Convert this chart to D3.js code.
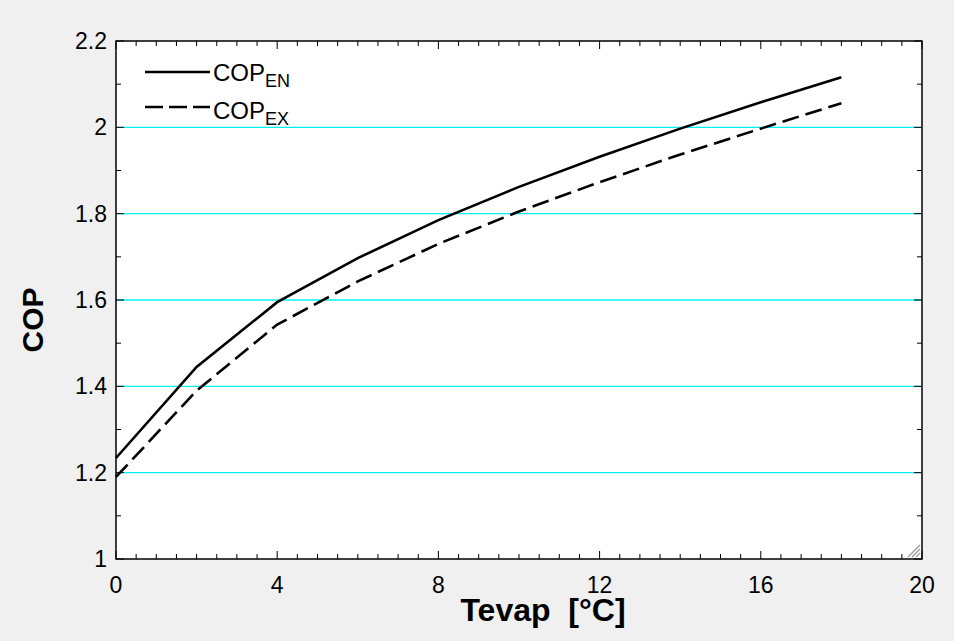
<!DOCTYPE html>
<html>
<head>
<meta charset="utf-8">
<script src="https://cdn.jsdelivr.net/npm/d3@7"></script>
<style>
  body { margin: 0; background: #f0f0f0; }
  svg { display: block; font-family: "Liberation Sans", Arial, sans-serif; }
</style>
</head>
<body>
<div id="chart"></div>
<script>
// Tevap [°C] vs COP
const tevap = [0, 2, 4, 6, 8, 10, 12, 14, 16, 18];
const copEN = [1.234, 1.445, 1.595, 1.697, 1.785, 1.862, 1.932, 1.997, 2.058, 2.116];
const copEX = [1.19, 1.39, 1.543, 1.643, 1.73, 1.805, 1.873, 1.937, 1.997, 2.056];
const xTicks = [0, 4, 8, 12, 16, 20];
const yTicks = [1, 1.2, 1.4, 1.6, 1.8, 2, 2.2];
const gridValues = [1.2, 1.4, 1.6, 1.8, 2];

const W = 954, H = 641;
const m = { left: 116, right: 954 - 922, top: 41, bottom: 641 - 559 };

const svg = d3.select('#chart').append('svg')
  .attr('width', W).attr('height', H);

svg.append('rect').attr('width', W).attr('height', H).attr('fill', '#f0f0f0');

const x = d3.scaleLinear().domain([0, 20]).range([m.left, W - m.right]);
const y = d3.scaleLinear().domain([1, 2.2]).range([H - m.bottom, m.top]);

// plot background
svg.append('rect')
  .attr('x', x(0)).attr('y', y(2.2))
  .attr('width', x(20) - x(0)).attr('height', y(1) - y(2.2))
  .attr('fill', '#fff');

// grid lines
svg.selectAll('.grid').data(gridValues).enter().append('line')
  .attr('x1', x(0)).attr('x2', x(20))
  .attr('y1', d => y(d)).attr('y2', d => y(d))
  .attr('stroke', '#00f0f4').attr('stroke-width', 1.4);

// inward ticks on all four sides
const xMinor = d3.range(0, 20.01, 0.5);
const yMinor = d3.range(1, 2.201, 0.1);
const isMajorX = v => Math.abs(v / 4 - Math.round(v / 4)) < 1e-6;
const isMajorY = v => Math.abs(v * 5 - Math.round(v * 5)) < 1e-6;

const ticks = svg.append('g').attr('stroke', '#000').attr('stroke-width', 1);
xMinor.forEach(v => {
  const len = isMajorX(v) ? 8 : 5;
  ticks.append('line').attr('x1', x(v)).attr('x2', x(v)).attr('y1', y(1)).attr('y2', y(1) - len);
  ticks.append('line').attr('x1', x(v)).attr('x2', x(v)).attr('y1', y(2.2)).attr('y2', y(2.2) + len);
});
yMinor.forEach(v => {
  const len = isMajorY(v) ? 8 : 5;
  ticks.append('line').attr('x1', x(0)).attr('x2', x(0) + len).attr('y1', y(v)).attr('y2', y(v));
  ticks.append('line').attr('x1', x(20)).attr('x2', x(20) - len).attr('y1', y(v)).attr('y2', y(v));
});

// frame
svg.append('rect')
  .attr('x', x(0)).attr('y', y(2.2))
  .attr('width', x(20) - x(0)).attr('height', y(1) - y(2.2))
  .attr('fill', 'none').attr('stroke', '#000').attr('stroke-width', 1.5);

// tick labels
svg.selectAll('.xl').data(xTicks).enter().append('text')
  .attr('x', d => x(d)).attr('y', y(1) + 34)
  .attr('text-anchor', 'middle').attr('font-size', 23).text(d => d);

svg.selectAll('.yl').data(yTicks).enter().append('text')
  .attr('x', x(0) - 9).attr('y', d => y(d) + 8)
  .attr('text-anchor', 'end').attr('font-size', 23).text(d => d);

// axis titles
svg.append('text')
  .attr('x', 543).attr('y', 621)
  .attr('text-anchor', 'middle').attr('font-size', 32).attr('font-weight', 'bold')
  .attr('xml:space', 'preserve')
  .text('Tevap  [°C]');

svg.append('text')
  .attr('transform', 'translate(43, 320) rotate(-90)')
  .attr('text-anchor', 'middle').attr('font-size', 30).attr('font-weight', 'bold')
  .text('COP');

// curves
const line = d3.line().x(d => x(d[0])).y(d => y(d[1]));
const series = [
  { name: 'EN', values: copEN, dash: null },
  { name: 'EX', values: copEX, dash: '17,7' }
];

series.forEach(s => {
  svg.append('path')
    .datum(tevap.map((t, i) => [t, s.values[i]]))
    .attr('d', line)
    .attr('fill', 'none').attr('stroke', '#000').attr('stroke-width', 2.6)
    .attr('stroke-dasharray', s.dash);
});

// legend
series.forEach((s, i) => {
  const ly = 72 + i * 35;
  svg.append('line')
    .attr('x1', 145).attr('x2', 210).attr('y1', ly).attr('y2', ly)
    .attr('stroke', '#000').attr('stroke-width', 2.6)
    .attr('stroke-dasharray', s.dash ? '18,6' : null);
  const t = svg.append('text').attr('x', 213).attr('y', ly + 9 + i * 3).attr('font-size', 24);
  t.append('tspan').text('COP');
  t.append('tspan').attr('font-size', 18).attr('dy', 6).text(s.name);
});

// resize grip
const grip = svg.append('g').attr('stroke', '#999').attr('stroke-width', 1.2);
[4, 8, 12].forEach(k => {
  grip.append('line')
    .attr('x1', x(20) - 2).attr('y1', y(1) - 2 - k)
    .attr('x2', x(20) - 2 - k).attr('y2', y(1) - 2);
});
</script>
</body>
</html>
